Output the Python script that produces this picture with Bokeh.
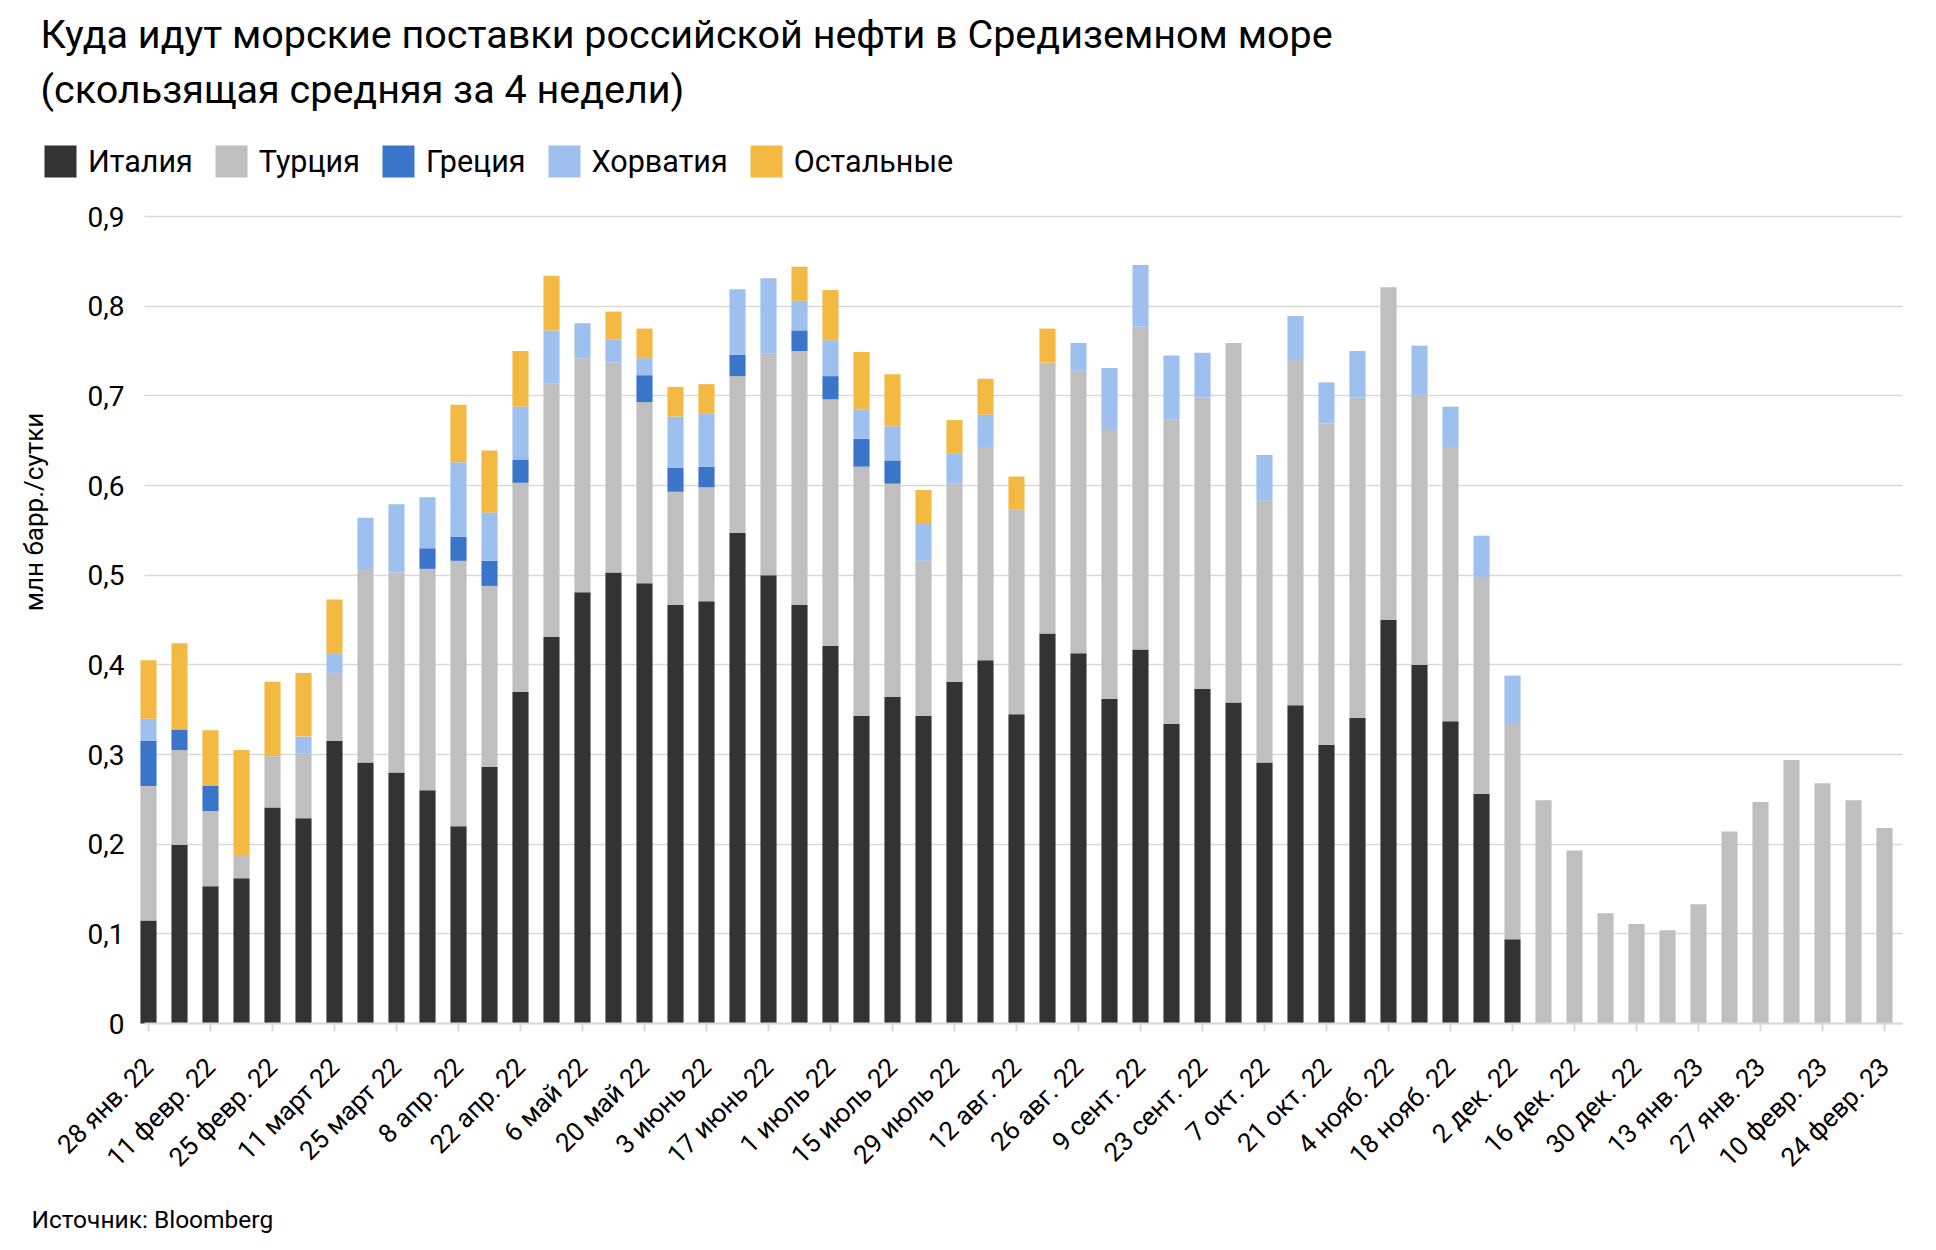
import math
from bokeh.plotting import figure
from bokeh.models import (ColumnDataSource, FixedTicker, CustomJSTickFormatter,
                          Legend, LegendItem, Label)
from bokeh.embed import file_html
from bokeh.resources import INLINE

# ---------------- data ----------------
tick_labels = [
    "28 янв. 22", "11 февр. 22", "25 февр. 22", "11 март 22", "25 март 22",
    "8 апр. 22", "22 апр. 22", "6 май 22", "20 май 22", "3 июнь 22",
    "17 июнь 22", "1 июль 22", "15 июль 22", "29 июль 22", "12 авг. 22",
    "26 авг. 22", "9 сент. 22", "23 сент. 22", "7 окт. 22", "21 окт. 22",
    "4 нояб. 22", "18 нояб. 22", "2 дек. 22", "16 дек. 22", "30 дек. 22",
    "13 янв. 23", "27 янв. 23", "10 февр. 23", "24 февр. 23",
]

italy = [0.115, 0.199, 0.153, 0.162, 0.241, 0.229, 0.315, 0.291, 0.280, 0.260,
         0.220, 0.286, 0.370, 0.431, 0.481, 0.503, 0.491, 0.467, 0.471, 0.547,
         0.500, 0.467, 0.421, 0.343, 0.364, 0.343, 0.381, 0.405, 0.345, 0.435,
         0.413, 0.362, 0.417, 0.334, 0.373, 0.358, 0.291, 0.355, 0.311, 0.341,
         0.450, 0.400, 0.337, 0.256, 0.094, 0, 0, 0, 0, 0,
         0, 0, 0, 0, 0, 0, 0]
turkey = [0.150, 0.106, 0.084, 0.026, 0.055, 0.072, 0.076, 0.216, 0.223, 0.247,
          0.296, 0.202, 0.233, 0.283, 0.261, 0.234, 0.202, 0.126, 0.127, 0.175,
          0.247, 0.283, 0.275, 0.278, 0.238, 0.173, 0.221, 0.238, 0.228, 0.302,
          0.315, 0.300, 0.360, 0.340, 0.325, 0.401, 0.292, 0.386, 0.358, 0.357,
          0.371, 0.301, 0.306, 0.242, 0.241, 0.249, 0.193, 0.123, 0.111, 0.104,
          0.133, 0.214, 0.247, 0.294, 0.268, 0.249, 0.218]
greece = [0.050, 0.023, 0.028, 0, 0, 0, 0, 0, 0, 0.023,
          0.027, 0.028, 0.026, 0, 0, 0, 0.030, 0.027, 0.023, 0.024,
          0, 0.023, 0.026, 0.031, 0.026, 0, 0, 0, 0, 0,
          0, 0, 0, 0, 0, 0, 0, 0, 0, 0,
          0, 0, 0, 0, 0, 0, 0, 0, 0, 0,
          0, 0, 0, 0, 0, 0, 0]
croatia = [0.025, 0, 0, 0, 0.002, 0.019, 0.022, 0.057, 0.076, 0.057,
           0.083, 0.054, 0.059, 0.059, 0.039, 0.026, 0.019, 0.057, 0.059, 0.073,
           0.084, 0.033, 0.040, 0.033, 0.038, 0.041, 0.034, 0.036, 0, 0,
           0.031, 0.069, 0.069, 0.071, 0.050, 0, 0.051, 0.048, 0.046, 0.052,
           0, 0.055, 0.045, 0.046, 0.053, 0, 0, 0, 0, 0,
           0, 0, 0, 0, 0, 0, 0]
others = [0.065, 0.096, 0.062, 0.117, 0.083, 0.071, 0.060, 0, 0, 0,
          0.064, 0.069, 0.062, 0.061, 0, 0.031, 0.033, 0.033, 0.033, 0,
          0, 0.038, 0.056, 0.064, 0.058, 0.038, 0.037, 0.040, 0.037, 0.038,
          0, 0, 0, 0, 0, 0, 0, 0, 0, 0,
          0, 0, 0, 0, 0, 0, 0, 0, 0, 0,
          0, 0, 0, 0, 0, 0, 0]

series_names = ["Италия", "Турция", "Греция", "Хорватия", "Остальные"]
series_keys = ["italy", "turkey", "greece", "croatia", "others"]
series_colors = ["#333333", "#bfbfbf", "#3a75c9", "#9dc0ee", "#f4b942"]

title_lines = ["Куда идут морские поставки российской нефти в Средиземном море",
               "(скользящая средняя за 4 недели)"]
y_label = "млн барр./сутки"
source_text = "Источник: Bloomberg"
y_ticks = [0, 0.1, 0.2, 0.3, 0.4, 0.5, 0.6, 0.7, 0.8, 0.9]

# ---------------- geometry (pixels) ----------------
W, H = 1920, 1234
ZERO_PX = 1023           # canvas y of value 0
TOP_PX = 216             # canvas y of value 0.9
PX_PER_BAR = 31.0
FIRST_BAR_PX = 148.0
RIGHT_BORDER = 18

n = len(italy)
frame_w = W - RIGHT_BORDER
px_per_unit = (ZERO_PX - TOP_PX) / 0.9
x_start = -FIRST_BAR_PX / PX_PER_BAR
x_end = x_start + frame_w / PX_PER_BAR
y_top = ZERO_PX / px_per_unit
y_bottom = -(H - ZERO_PX) / px_per_unit
x_lo = -0.13             # left edge of the plot area (data units)

src = ColumnDataSource(dict(x=list(range(n)), italy=italy, turkey=turkey,
                            greece=greece, croatia=croatia, others=others))

FONT = "Roboto"
p = figure(width=W, height=H, title=None,
           x_range=(x_start, x_end), y_range=(y_bottom, y_top),
           output_backend="svg", toolbar_location=None,
           min_border_left=0, min_border_right=RIGHT_BORDER,
           min_border_top=0, min_border_bottom=0)
p.outline_line_color = None
p.background_fill_color = "white"
p.border_fill_color = "white"

rs = p.vbar_stack(series_keys, x="x", width=0.52, source=src,
                  fill_color=series_colors, line_color=None)

# x axis at value 0
p.xaxis.fixed_location = 0
p.xaxis.bounds = (x_lo, x_end)
p.xaxis.ticker = FixedTicker(ticks=list(range(0, n, 2)))
p.xaxis.major_label_overrides = {i: lab for i, lab in zip(range(0, n, 2), tick_labels)}
p.xaxis.major_label_orientation = math.pi / 4
p.xaxis.major_tick_out = 8
p.xaxis.major_tick_in = 0
p.xaxis.major_tick_line_color = "#d9d9d9"
p.xaxis.major_tick_line_width = 2
p.xaxis.minor_tick_line_color = None
p.xaxis.axis_line_color = "#d9d9d9"
p.xaxis.axis_line_width = 2
p.xaxis.major_label_text_font = FONT
p.xaxis.major_label_text_font_size = "26px"
p.xaxis.major_label_text_color = "#000000"
p.xaxis.major_label_standoff = 31

# y axis at the left edge of the plot area
p.yaxis.fixed_location = x_lo
p.yaxis.bounds = (0, y_top)
p.yaxis.ticker = FixedTicker(ticks=y_ticks)
p.yaxis.formatter = CustomJSTickFormatter(
    code="return tick === 0 ? '0' : tick.toFixed(1).replace('.', ',');")
p.yaxis.axis_line_color = None
p.yaxis.major_tick_out = 0
p.yaxis.major_tick_in = 0
p.yaxis.major_tick_line_color = None
p.yaxis.minor_tick_line_color = None
p.yaxis.major_label_standoff = 20
p.yaxis.major_label_text_font = FONT
p.yaxis.major_label_text_font_size = "28px"
p.yaxis.major_label_text_color = "#000000"
p.yaxis.axis_label = y_label
p.yaxis.axis_label_text_font = FONT
p.yaxis.axis_label_text_font_size = "26px"
p.yaxis.axis_label_text_font_style = "normal"
p.yaxis.axis_label_text_color = "#000000"
p.yaxis.axis_label_standoff = 36

p.xgrid.visible = False
p.ygrid.grid_line_color = "#d9d9d9"
p.ygrid.grid_line_width = 1.3
p.ygrid.cross_bounds = (x_lo, x_end)

# legend
legend = Legend(
    items=[LegendItem(label=nm, renderers=[r]) for nm, r in zip(series_names, rs)],
    orientation="horizontal", location=(40, H - 133 - 40 - 8),
    glyph_width=40, glyph_height=40, label_standoff=8, spacing=18,
    padding=0, margin=0, border_line_color=None, background_fill_alpha=0,
    label_text_font=FONT, label_text_font_size="30.5px", label_text_color="#000000")
p.add_layout(legend)

# title lines
p.add_layout(Label(x=40, y=H - 34, x_units="screen", y_units="screen",
                   text=title_lines[0], text_font=FONT, text_font_size="39.5px",
                   text_baseline="alphabetic", text_color="#000000"))
p.add_layout(Label(x=40, y=H - 89, x_units="screen", y_units="screen",
                   text=title_lines[1], text_font=FONT, text_font_size="39.5px",
                   text_baseline="alphabetic", text_color="#000000"))

# source
p.add_layout(Label(x=31, y=H - 1219, x_units="screen", y_units="screen",
                   text=source_text, text_font=FONT, text_font_size="24.5px",
                   text_baseline="alphabetic", text_color="#000000"))

with open("out.html", "w", encoding="utf-8") as f:
    f.write(file_html(p, INLINE))
